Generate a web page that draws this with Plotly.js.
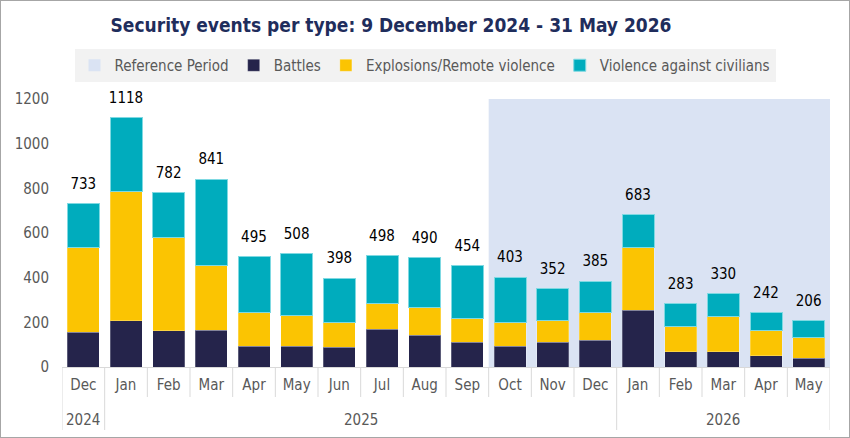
<!DOCTYPE html>
<html>
<head>
<meta charset="utf-8">
<script src="https://cdn.plot.ly/plotly-3.0.1.min.js"></script>
<style>
  html, body { margin: 0; padding: 0; background: #fff; }
  #wrap { position: relative; width: 850px; height: 438px; }
  #chart { width: 850px; height: 438px; }
  #frame { position: absolute; left: 0; top: 0; width: 848px; height: 436px; border: 1px solid #a6a6a6; pointer-events: none; }
</style>
</head>
<body>
<div id="wrap"><div id="chart"></div><div id="frame"></div></div>
<script>
const years  = ['2024','2025','2025','2025','2025','2025','2025','2025','2025','2025','2025','2025','2025','2026','2026','2026','2026','2026'];
const months = ['Dec','Jan','Feb','Mar','Apr','May','Jun','Jul','Aug','Sep','Oct','Nov','Dec','Jan','Feb','Mar','Apr','May'];
const battles    = [156, 207, 162, 165,  92,  92,  88, 168, 143, 111,  92, 111, 119, 255,  69,  69,  50,  39];
const explosions = [381, 578, 417, 289, 153, 140, 112, 118, 124, 105, 108,  96, 126, 282, 114, 159, 112,  93];
const civilians  = [196, 333, 203, 387, 250, 276, 198, 212, 223, 238, 203, 145, 140, 146, 100, 102,  80,  74];
const totals     = [733,1118, 782, 841, 495, 508, 398, 498, 490, 454, 403, 352, 385, 683, 283, 330, 242, 206];
const refStart = {year: '2025', month: 'Oct'};
const refEnd   = {year: '2026', month: 'May'};
const yMax = 1200;

const FONT = "'DejaVu Sans Condensed', 'DejaVu Sans', sans-serif";
const cats = months.map((m, i) => m + ' ' + years[i]);
const idx = (p) => cats.indexOf(p.month + ' ' + p.year);

const plotH = 438 - 99 - 71;
const GRID = '#d9d9d9';

const barLine = {width: 1, color: 'rgba(255,255,255,0.25)'};
const traces = [
  {type: 'bar', name: 'Reference Period', x: cats, y: cats.map(() => null),
   marker: {color: '#dae3f3'}, hoverinfo: 'skip'},
  {type: 'bar', name: 'Battles', x: cats, y: battles, marker: {color: '#25244b', line: barLine}},
  {type: 'bar', name: 'Explosions/Remote violence', x: cats, y: explosions, marker: {color: '#fbc402', line: barLine}},
  {type: 'bar', name: 'Violence against civilians', x: cats, y: civilians, marker: {color: '#00acbd', line: {width: 1, color: '#7fd9e2'}}},
  {type: 'scatter', mode: 'markers+text', x: cats, y: totals, text: totals.map(String),
   textposition: 'top center', textfont: {family: FONT, size: 15, color: '#000'}, cliponaxis: false,
   marker: {size: 16, color: 'rgba(0,0,0,0)'}, showlegend: false, hoverinfo: 'skip'}
];

// Boundaries: short ticks between months, long dividers at year changes and ends
const shapes = [{type: 'rect', layer: 'below', xref: 'x', yref: 'y',
                 x0: idx(refStart) - 0.5, x1: idx(refEnd) + 0.5, y0: 0, y1: yMax,
                 fillcolor: '#dae3f3', line: {width: 0}}];
for (let i = 0; i <= cats.length; i++) {
  const yearBreak = (i === 0 || i === cats.length || years[i] !== years[i - 1]);
  shapes.push({type: 'line', xref: 'x', yref: 'paper', x0: i - 0.5, x1: i - 0.5,
               y0: 0, y1: -(yearBreak ? 63 : 30) / plotH, line: {color: GRID, width: 1}});
}

// Year labels centred under their group
const annotations = [];
const uniqYears = [...new Set(years)];
uniqYears.forEach(yr => {
  const first = years.indexOf(yr), last = years.lastIndexOf(yr);
  annotations.push({xref: 'x', yref: 'paper', x: (first + last) / 2, y: -53 / plotH,
                    yanchor: 'middle', xanchor: 'center', showarrow: false, text: yr,
                    font: {family: FONT, size: 15, color: '#595959'}});
});

const layout = {
  width: 850, height: 438,
  margin: {l: 62, r: 20, t: 99, b: 71},
  paper_bgcolor: '#fff', plot_bgcolor: '#fff',
  barmode: 'stack', bargap: 0.25,
  font: {family: FONT, size: 15, color: '#595959'},
  title: {text: '<b>Security events per type: 9 December 2024 - 31 May 2026</b>',
          font: {family: FONT, size: 19, color: '#1f2d5c'},
          x: 0.46, xanchor: 'center', xref: 'container',
          y: 1 - 25/438, yanchor: 'middle', yref: 'container'},
  legend: {orientation: 'h', traceorder: 'normal', xref: 'container', yref: 'container',
           x: 0.5, xanchor: 'center', y: 1 - 49/438, yanchor: 'top',
           bgcolor: '#f2f2f2', font: {family: FONT, size: 15, color: '#595959'},
           itemwidth: 30},
  xaxis: {type: 'category', tickvals: cats, ticktext: months, range: [-0.5, cats.length - 0.5],
          showgrid: false, zeroline: false,
          showline: true, linecolor: GRID, linewidth: 1, ticks: '', ticklabelstandoff: 4,
          tickfont: {family: FONT, size: 15, color: '#595959'}},
  yaxis: {range: [0, yMax], dtick: 200, showgrid: false, zeroline: false, showline: false,
          ticks: '', tickfont: {family: FONT, size: 15, color: '#595959'}, ticklabelstandoff: 12},
  shapes: shapes,
  annotations: annotations
};

Plotly.newPlot('chart', traces, layout, {displayModeBar: false, staticPlot: true});
</script>
</body>
</html>
